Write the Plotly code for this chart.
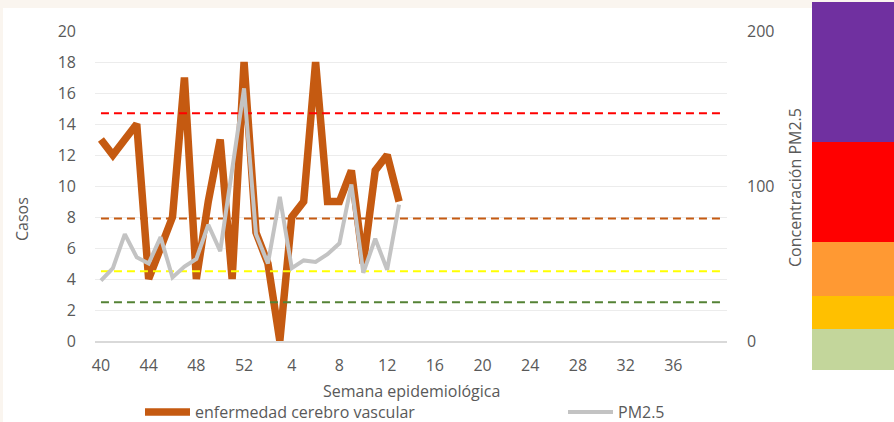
import plotly.graph_objects as go

# ---- data ----
weeks = list(range(40, 53)) + list(range(1, 41))
casos = [13, 12, 13, 14, 4, 6, 8, 17, 4, 9, 13, 4, 18,
         7, 5, 0, 8, 9, 18, 9, 9, 11, 5, 11, 12, 9]
pm25 = [39, 47, 69, 54, 50, 67, 41, 48, 53, 75, 58, 110, 163,
        69, 50, 93, 47, 52, 51, 56, 63, 101, 44, 66, 46, 88]
umbrales = [147, 79, 45, 25]
umbral_colores = ["#FF0000", "#C55A11", "#FFFF00", "#548235"]
tick_weeks_shown = 49  # last labelled position is week 36
tick_step = 4

idx = list(range(len(weeks)))

# layout constants
W, H = 894, 422
L, R, T, B = 95, W - 727, 31, 81
PW, PH = W - L - R, H - T - B

def px_x(p):
    return (p - L) / PW

def px_y(p):
    return (H - B - p) / PH

fig = go.Figure()

for val, col in zip(umbrales, umbral_colores):
    fig.add_trace(go.Scatter(
        x=idx, y=[val] * len(idx), yaxis="y2", mode="lines",
        line=dict(color=col, width=2, dash="8px,5px"),
        showlegend=False, hoverinfo="skip"))

fig.add_trace(go.Scatter(
    x=idx[:len(casos)], y=casos, mode="lines",
    name="enfermedad cerebro vascular", legend="legend",
    line=dict(color="#C55A11", width=7.5, shape="linear")))

fig.add_trace(go.Scatter(
    x=idx[:len(pm25)], y=pm25, yaxis="y2", mode="lines",
    name="PM2.5", legend="legend2",
    line=dict(color="#C3C3C3", width=4)))

font_family = "Open Sans, Liberation Sans, sans-serif"
gray_txt = "#595959"
FS = 16

# colour band on the right
bands = [(2, 142, "#7030A0"), (142, 242, "#FF0000"), (242, 296, "#FF9933"),
         (296, 329, "#FFC000"), (329, 370, "#C3D69B")]
shapes = []
shapes.append(dict(type="rect", xref="paper", yref="paper",
                   x0=px_x(0), x1=px_x(W), y0=px_y(8), y1=px_y(0),
                   fillcolor="#FAF5EF", line=dict(width=0), layer="below"))
shapes.append(dict(type="rect", xref="paper", yref="paper",
                   x0=px_x(0), x1=px_x(3), y0=px_y(H), y1=px_y(0),
                   fillcolor="#FAF5EF", line=dict(width=0), layer="below"))
for y0, y1, c in bands:
    shapes.append(dict(type="rect", xref="paper", yref="paper",
                       x0=px_x(812), x1=px_x(W), y0=px_y(y1), y1=px_y(y0),
                       fillcolor=c, line=dict(width=0), layer="above"))

title_font = dict(size=FS, color=gray_txt, family=font_family)
annotations = [
    dict(text="Semana epidemiológica", xref="paper", yref="paper",
         x=px_x(411), y=px_y(391), xanchor="center", yanchor="middle",
         showarrow=False, font=title_font),
    dict(text="Casos", xref="paper", yref="paper",
         x=px_x(22), y=px_y(219), xanchor="center", yanchor="middle",
         textangle=-90, showarrow=False, font=title_font),
    dict(text="Concentración PM2.5", xref="paper", yref="paper",
         x=px_x(795), y=px_y(187), xanchor="center", yanchor="middle",
         textangle=-90, showarrow=False, font=title_font),
]

legend_common = dict(orientation="h", xref="container", yref="container",
                     xanchor="left", yanchor="middle",
                     font=dict(size=FS, color=gray_txt, family=font_family),
                     bgcolor="rgba(0,0,0,0)", itemwidth=45)

fig.update_layout(
    width=W, height=H,
    margin=dict(l=L, r=R, t=T, b=B, pad=0, autoexpand=False),
    paper_bgcolor="white", plot_bgcolor="white",
    font=dict(family=font_family, size=FS, color=gray_txt),
    shapes=shapes, annotations=annotations,
    showlegend=True,
    legend=dict(x=140 / W, y=1 - 412 / H, **legend_common),
    legend2=dict(x=563 / W, y=1 - 412 / H, **legend_common),
    xaxis=dict(
        range=[-0.5, len(weeks) - 0.5],
        tickmode="array",
        tickvals=idx[:tick_weeks_shown:tick_step],
        ticktext=[str(w) for w in weeks[:tick_weeks_shown:tick_step]],
        showgrid=False, zeroline=False, automargin=False,
        showline=True, linecolor="#D9D9D9", linewidth=2,
        ticks="", ticklabelstandoff=9,
        tickfont=dict(size=FS, color=gray_txt),
    ),
    yaxis=dict(
        range=[0, 20], dtick=2, tick0=0, automargin=False,
        showgrid=True, gridcolor="#ECECEC", gridwidth=1,
        zeroline=False, showline=False,
        ticks="", ticklabelstandoff=18,
        tickfont=dict(size=FS, color=gray_txt),
    ),
    yaxis2=dict(
        range=[0, 200], tickvals=[0, 100, 200], automargin=False,
        overlaying="y", side="right",
        showgrid=False, zeroline=False, showline=False,
        ticks="", ticklabelstandoff=19,
        tickfont=dict(size=FS, color=gray_txt),
    ),
)

fig.write_html("out.html",
               config={"displayModeBar": False},
               post_script="document.body.style.margin='0';"
                           "document.body.style.overflow='hidden';")
